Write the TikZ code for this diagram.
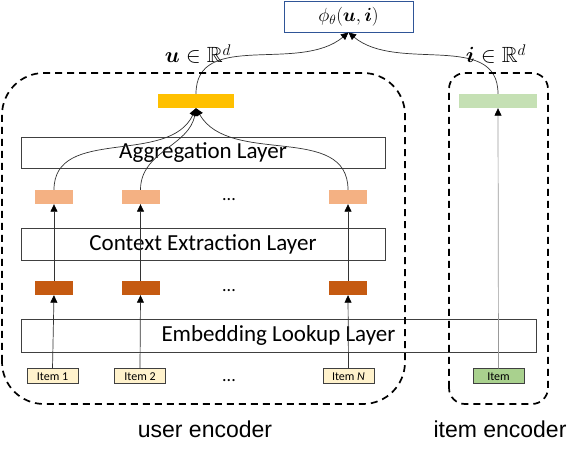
\RequirePackage{fix-cm}
\documentclass[tikz,border=0pt]{standalone}
\usepackage{amsmath}
\usepackage{amssymb}
\usepackage{bm}
\usepackage{fontspec}
\setmainfont{Carlito}
\newfontfamily\arialfont{Liberation Sans}
\usetikzlibrary{arrows.meta}
\definecolor{amarillo}{HTML}{FFC000}
\definecolor{verdeclaro}{HTML}{C5E0B4}
\definecolor{salmon}{HTML}{F4B183}
\definecolor{naranjo}{HTML}{C55A11}
\definecolor{crema}{HTML}{FFF2CC}
\definecolor{verdeitem}{HTML}{A9D18E}
\definecolor{azul}{HTML}{2F5597}
\definecolor{borde}{HTML}{404040}

\begin{document}
\begin{tikzpicture}[x=1pt,y=1pt,
    capa/.style={draw=borde, line width=0.9pt, inner sep=0pt,
      font=\fontsize{23}{26}\selectfont},
    barra/.style={minimum width=38pt, minimum height=14pt, inner sep=0pt},
    entrada/.style={draw=borde, line width=1pt, minimum width=51pt,
      minimum height=15pt, inner sep=0pt, font=\fontsize{12}{13}\selectfont},
    flecha/.style={-{Triangle[length=7.5pt,width=7pt,color=black]},
      draw=black!80, line width=0.7pt},
    marco/.style={draw=black, line width=1.7pt, dash pattern=on 7pt off 5pt},
    puntos/.style={font=\fontsize{18}{18}\selectfont},
    etiqueta/.style={font=\fontsize{22}{26}\selectfont, anchor=base},
    pie/.style={font=\arialfont\fontsize{23}{26}\selectfont, anchor=base}]

    % Paso 1: Fija el marco de la figura
    \useasboundingbox (0,0) rectangle (581,460);

    % Paso 2: Dibuja las tres capas del codificador de usuario
    \node[capa, minimum width=515pt, minimum height=33pt] (emb) at (278.5,124.5) {Embedding Lookup Layer};
    \node[capa, minimum width=364pt, minimum height=32pt] (ctx) at (203,216) {Context Extraction Layer};
    \node[capa, minimum width=364pt, minimum height=31pt] (agr) at (203,307.5) {Aggregation Layer};

    % Paso 3: Dibuja las entradas (items)
    \node[entrada, fill=crema] (it1) at (52.5,83.5) {Item 1};
    \node[entrada, fill=crema] (it2) at (140,83.5) {Item 2};
    \node[entrada, fill=crema] (itN) at (348.5,83.5) {Item \textit{N}};
    \node[entrada, fill=verdeitem] (it) at (498.5,83.5) {Item};

    % Paso 4: Dibuja las barras de cada nivel
    \node[barra, fill=naranjo] (emb1) at (54,172) {};
    \node[barra, fill=naranjo] (emb2) at (140.5,172) {};
    \node[barra, fill=naranjo] (embN) at (348,172) {};
    \node[barra, fill=salmon] (ctx1) at (54,263) {};
    \node[barra, fill=salmon] (ctx2) at (140.5,263) {};
    \node[barra, fill=salmon] (ctxN) at (348,263) {};
    \node[barra, fill=amarillo, minimum width=76pt] (u) at (196,359) {};
    \node[barra, fill=verdeclaro, minimum width=78pt] (i) at (498,359) {};

    % Paso 5: Puntos suspensivos entre columnas
    \node[puntos] (p1) at (229,79) {...};
    \node[puntos] (p2) at (229,169) {...};
    \node[puntos] (p3) at (229,260) {...};

    % Paso 6: Flechas rectas de abajo hacia arriba
    \draw[flecha] (it1.north) -- (emb1.south);
    \draw[flecha] (it2.north) -- (emb2.south);
    \draw[flecha] (itN.north) -- (embN.south);
    \draw[flecha] (emb1.north) -- (ctx1.south);
    \draw[flecha] (emb2.north) -- (ctx2.south);
    \draw[flecha] (embN.north) -- (ctxN.south);
    \draw[flecha, draw=black!40] (it.north) -- (i.south);

    % Paso 7: Curvas de agregacion hacia el vector u
    \draw[flecha] (ctx1.north) to[out=90, in=-115] (u.south);
    \draw[flecha] (ctx2.north) to[out=90, in=-100] (u.south);
    \draw[flecha] (ctxN.north) to[out=90, in=-60] (u.south);

    % Paso 8: Caja de la funcion de puntaje y sus curvas
    \node[draw=azul, line width=0.9pt, fill=white, minimum width=129pt,
      minimum height=31pt, font=\fontsize{19}{22}\selectfont] (phi) at (348.5,443.5)
      {$\phi_\theta(\bm{u},\bm{i})$};
    \draw[flecha] (u.north) to[out=90, in=-140] (phi.south);
    \draw[flecha] (i.north) to[out=90, in=-40] (phi.south);

    % Paso 9: Etiquetas de los vectores
    \node[etiqueta] (lu) at (198,397) {$\bm{u}\in\mathbb{R}^d$};
    \node[etiqueta] (li) at (496,397) {$\bm{i}\in\mathbb{R}^d$};

    % Paso 10: Marcos punteados de los codificadores y sus nombres
    \draw[marco, rounded corners=42pt] (2,56) rectangle (405,387);
    \draw[marco, rounded corners=16pt] (449,56) rectangle (548,387);
    \node[pie] (ue) at (205,22) {user encoder};
    \node[pie] (ie) at (500,22) {item encoder};
\end{tikzpicture}
\end{document}
